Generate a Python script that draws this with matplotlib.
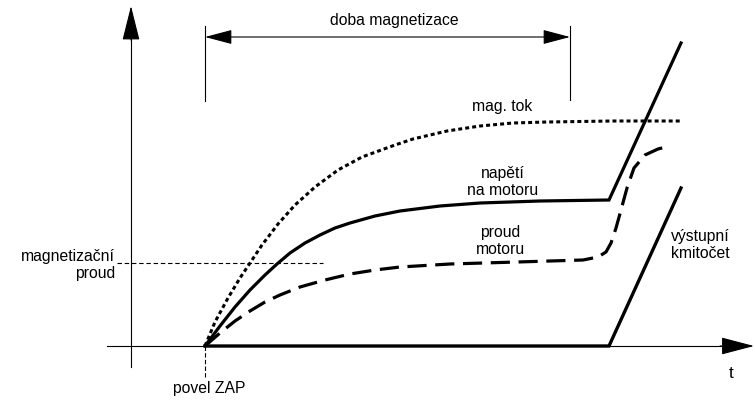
import matplotlib.pyplot as plt

plt.rcParams['font.family'] = ['Liberation Sans', 'DejaVu Sans']

# Curves in drawing units (x to the right, y downward)
flux_x = [205, 215, 228, 240, 250, 262, 278, 295, 315, 338, 362, 395, 413, 447, 480, 513, 547, 613, 680]
flux_y = [346, 322, 298, 278, 263, 245, 224, 205, 187, 170, 157, 145, 139, 131, 126, 123, 122, 121, 121]

volt_x = [205, 220, 235, 250, 265, 277, 290, 305, 320, 335, 350, 375, 400, 440, 480, 540, 609, 681]
volt_y = [346, 326, 307, 290, 275, 264, 253, 243, 235, 228, 223, 216, 211, 206, 203, 201, 200, 43]

curr_x = [205, 220, 235, 250, 265, 280, 300, 325, 350, 375, 400, 450, 517, 583, 598, 606,
          611, 616, 621, 627, 634, 645, 658, 670]
curr_y = [346, 333, 321, 311, 302, 295, 287, 280, 274, 270, 267, 264, 262, 260, 257, 252,
          243, 228, 210, 188, 168, 155, 149, 146]

freq_x = [205, 609, 681]
freq_y = [346, 346, 188]

# Levels and time marks
t_on = 205
t_mag_end = 570
mag_current = 263
baseline = 346

fig = plt.figure(figsize=(7.55, 4.0), dpi=100)
ax = fig.add_axes([0, 0, 1, 1])
ax.set_xlim(0, 755)
ax.set_ylim(400, 0)
ax.axis('off')

fs = 11.3

# axes with arrows
ax.plot([131, 131], [367, 30], color='black', lw=0.8)
ax.annotate('', xy=(131, 6), xytext=(131, 40),
            arrowprops=dict(arrowstyle='-|>,head_length=22,head_width=5.5', mutation_scale=1,
                            color='black', lw=0.8, shrinkA=0, shrinkB=0))
ax.plot([107, 730], [baseline, baseline], color='black', lw=0.8)
ax.annotate('', xy=(754, baseline), xytext=(720, baseline),
            arrowprops=dict(arrowstyle='-|>,head_length=21,head_width=5.5', mutation_scale=1,
                            color='black', lw=0.8, shrinkA=0, shrinkB=0))
ax.text(731, 373, 't', fontsize=fs + 1, ha='center', va='center')

# magnetization time span
ax.plot([t_on, t_on], [26, 101], color='black', lw=0.8)
ax.plot([t_mag_end, t_mag_end], [26, 100], color='black', lw=0.8)
ax.annotate('', xy=(t_on, 37), xytext=(t_mag_end, 37),
            arrowprops=dict(arrowstyle='<|-|>,head_length=17,head_width=4.5', mutation_scale=1,
                            color='black', lw=0.8, shrinkA=0, shrinkB=0))
ax.text(394, 20, 'doba magnetizace', fontsize=fs, ha='center', va='center')

# switch-on command
ax.plot([t_on, t_on], [baseline, 377], color='black', lw=0.8, linestyle=(0, (4, 2)))
ax.text(209, 388, 'povel ZAP', fontsize=fs, ha='center', va='center')

# magnetizing current level
ax.plot([117, 323], [mag_current, mag_current], color='black', lw=0.8, linestyle=(0, (4, 2.5)))
ax.text(115, 265, 'magnetizační\nproud', fontsize=fs, ha='right', va='center',
        multialignment='right', linespacing=1.15)

# curves
ax.plot(flux_x, flux_y, color='black', lw=2.2, linestyle=(0, (1.3, 1.0)), dash_capstyle='butt')
ax.plot(volt_x, volt_y, color='black', lw=2.3, solid_joinstyle='miter')
ax.plot(curr_x, curr_y, color='black', lw=2.3, linestyle=(0, (6, 2.7)), dash_capstyle='butt')
ax.plot(freq_x, freq_y, color='black', lw=2.4, solid_joinstyle='miter')

# curve labels
ax.text(502, 107, 'mag. tok', fontsize=fs, ha='center', va='center')
ax.text(503, 182, 'napětí\nna motoru', fontsize=fs, ha='center', va='center', linespacing=1.15)
ax.text(500, 241, 'proud\nmotoru', fontsize=fs, ha='center', va='center', linespacing=1.15)
ax.text(671, 245, 'výstupní\nkmitočet', fontsize=fs, ha='left', va='center', linespacing=1.15)

fig.savefig('out.png', dpi=100)
